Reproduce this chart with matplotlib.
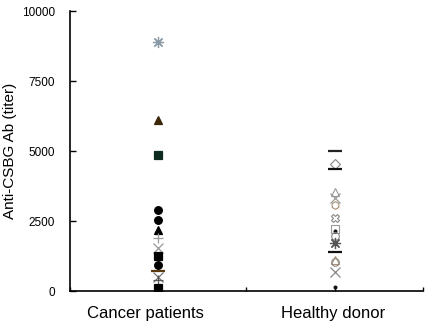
import matplotlib
matplotlib.use("Agg")
import matplotlib.pyplot as plt

plt.rcParams['font.family'] = ['Liberation Sans', 'DejaVu Sans']

categories = ["Cancer patients", "Healthy donor"]
cat_positions = [1, 3]

cancer_values = [8900, 6100, 4850, 2890, 2540, 2180, 1890, 1540, 1250, 930, 720, 500, 390, 110]
cancer_markers = ['ast', '^', 's', 'o', 'o', '^', '+', 'x', 's', 'o', '_', 'x', '+', 's']
cancer_colors = ['#8a9aa6', '#3b2608', '#0d2b1f', '#000000', '#000000', '#000000', '#9a9a9a',
                 '#9a9a9a', '#000000', '#000000', '#5a3a10', '#777777', '#555555', '#000000']
cancer_filled = [False, True, True, True, True, True, False, False, True, True, False, False, False, True]

healthy_values = [5000, 4540, 4360, 3540, 3320, 3070, 2600, 2230, 2150, 1950, 1710, 1390, 1100, 1040, 680, 140]
healthy_markers = ['_', 'D', '_', '^', 'x', 'h', 'X', 's', '.', 'o', 'ast', '_', '^', 'o', 'x', '.']
healthy_colors = ['#222222', '#888888', '#111111', '#999999', '#999999', '#a89070', '#888888', '#999999',
                  '#111111', '#888888', '#555555', '#111111', '#a89070', '#888888', '#888888', '#111111']
healthy_filled = [False, False, False, False, False, False, False, False, True, False, False, False, False, False, False, True]

y_ticks = [0, 2500, 5000, 7500, 10000]

fig = plt.figure(figsize=(4.3, 3.25), dpi=100)
ax = fig.add_axes([0.1628, 0.1046, 0.8209, 0.8614])

def draw(xpos, vals, markers, colors, filled):
    for v, m, c, f in zip(vals, markers, colors, filled):
        ms = 5.5
        if m == 'ast':
            m = (8, 2, 0)
            ms = 8
        elif m == '_':
            ms = 10
        elif m == '.':
            ms = 4
        elif m in ('x', '+'):
            ms = 7
        elif m == 'X':
            ms = 6
        stroke = isinstance(m, tuple) or m in ('x', '+', '_')
        if f or stroke:
            ax.plot([xpos], [v], marker=m, color=c, markersize=ms, linestyle='none',
                    markeredgewidth=1.6 if m == '_' else 0.9)
        else:
            ax.plot([xpos], [v], marker=m, markerfacecolor='none', markeredgecolor=c,
                    markersize=ms, linestyle='none', markeredgewidth=0.8)

draw(cat_positions[0], cancer_values, cancer_markers, cancer_colors, cancer_filled)
draw(cat_positions[1], healthy_values, healthy_markers, healthy_colors, healthy_filled)

ax.set_xlim(0, 4)
ax.set_ylim(0, 10000)
ax.set_yticks(y_ticks)
ax.set_yticklabels([str(t) for t in y_ticks], fontsize=8.5)
ax.set_xticks([0, 1, 2, 3, 4])
ax.set_xticklabels([])
ax.tick_params(axis='y', direction='in', length=4, width=1, pad=11)
ax.tick_params(axis='x', direction='in', length=3, width=1)
for s in ('top', 'right'):
    ax.spines[s].set_visible(False)
for s in ('left', 'bottom'):
    ax.spines[s].set_linewidth(1.2)
ax.set_ylabel("Anti-CSBG Ab (titer)", fontsize=11, labelpad=3)

label_x = [0.85, 2.98]
for lx, lab in zip(label_x, categories):
    ax.text(lx, -800, lab, ha='center', va='center', fontsize=12)

fig.savefig("out.png", dpi=100)
